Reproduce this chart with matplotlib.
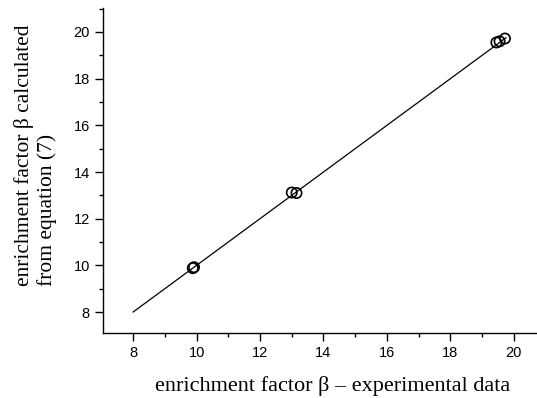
import matplotlib
matplotlib.use("Agg")
import matplotlib.pyplot as plt
from matplotlib.ticker import MultipleLocator

# data
exp_beta = [9.88, 9.92, 13.0, 13.15, 19.45, 19.55, 19.72]
calc_beta = [9.88, 9.92, 13.12, 13.1, 19.55, 19.6, 19.72]
line_x = [8.0, 19.75]
line_y = [8.0, 19.75]

fig = plt.figure(figsize=(5.37, 3.98), dpi=100)
ax = fig.add_axes([0.1918, 0.1633, 0.8082, 0.8167])

ax.plot(line_x, line_y, color="black", lw=0.9)
ax.scatter(exp_beta, calc_beta, s=55, facecolors="none", edgecolors="black", linewidths=1.2, zorder=3)

ax.set_xlim(7.05, 20.73)
ax.set_ylim(7.1, 21.03)
ax.xaxis.set_major_locator(MultipleLocator(2))
ax.xaxis.set_minor_locator(MultipleLocator(1))
ax.yaxis.set_major_locator(MultipleLocator(2))
ax.yaxis.set_minor_locator(MultipleLocator(1))
ax.spines["top"].set_visible(False)
ax.spines["right"].set_visible(False)
for s in ("left", "bottom"):
    ax.spines[s].set_linewidth(1.0)
ax.tick_params(which="major", direction="out", length=5.5, width=1, labelsize=10.5, pad=4)
ax.tick_params(which="minor", direction="out", length=3, width=1)
for lbl in ax.get_xticklabels() + ax.get_yticklabels():
    lbl.set_family("Liberation Sans")

fig.text(0.620, 0.030, "enrichment factor β – experimental data", family="Liberation Serif",
         fontsize=16, ha="center", va="center")
fig.text(0.066, 0.61, "enrichment factor β calculated\nfrom equation (7)", family="Liberation Serif",
         fontsize=15.5, ha="center", va="center", rotation=90, multialignment="left", linespacing=1.15)

fig.savefig("out.png", dpi=100)
